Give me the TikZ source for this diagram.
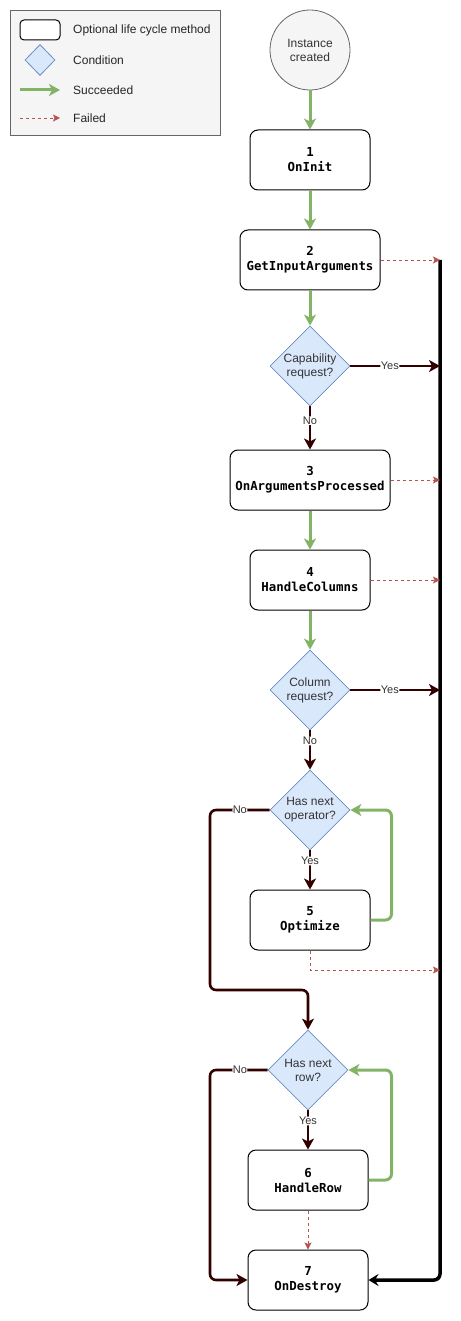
\documentclass[tikz,border=0pt]{standalone}
\usepackage{fontspec}
\setmainfont{Liberation Sans}
\newfontfamily\codefont{DejaVu Sans Mono}
\usetikzlibrary{arrows.meta,shapes.geometric}
\definecolor{okgreen}{HTML}{82B366}
\definecolor{failred}{HTML}{B85450}
\definecolor{maroon}{HTML}{330000}
\definecolor{condfill}{HTML}{DAE8FC}
\definecolor{condline}{HTML}{6C8EBF}
\definecolor{lgfill}{HTML}{F5F5F5}
\definecolor{lgline}{HTML}{666666}
\definecolor{txtgray}{HTML}{333333}
\begin{document}
\begin{tikzpicture}[x=1pt,y=-1pt,
  method/.style={draw=black, rounded corners=8pt, fill=white, line width=1pt,
    minimum height=60pt, inner sep=0pt, align=center,
    font=\codefont\bfseries\fontsize{12.4}{15}\selectfont},
  cond/.style={diamond, draw=condline, fill=condfill, line width=0.8pt,
    minimum width=80pt, minimum height=80pt, inner sep=0pt, aspect=1},
  condtext/.style={align=center, text=txtgray, font=\fontsize{12}{14}\selectfont},
  lbl/.style={fill=white, inner sep=0.5pt, text=txtgray, font=\fontsize{11}{13}\selectfont},
  okarrow/.style={draw=okgreen, line width=3pt, rounded corners=6pt,
    -{Stealth[length=11pt,width=12pt,inset=3pt]}},
  yesno/.style={draw=maroon, line width=2.6pt, rounded corners=6pt,
    -{Stealth[length=11pt,width=12pt,inset=3pt]}},
  failarrow/.style={draw=failred, line width=0.8pt, dash pattern=on 3pt off 3pt,
    -{Stealth[length=7pt,width=7pt,inset=1.5pt]}},
  busline/.style={draw=black, line width=3.5pt, rounded corners=6pt,
    -{Stealth[length=10pt,width=12pt,inset=3.5pt]}},
  lgtext/.style={anchor=west, inner sep=0pt, text=black!85, font=\fontsize{12}{14}\selectfont}
]
\useasboundingbox (0,0) rectangle (460,1321);

% legend
\node[draw=lgline, fill=lgfill, line width=0.8pt, minimum width=210pt, minimum height=125pt,
  inner sep=0pt, anchor=north west] (legend) at (10,10) {};
\node[draw=black, rounded corners=4pt, line width=1pt, fill=white, minimum width=40pt,
  minimum height=20pt, inner sep=0pt] (lgmethod) at (40,30) {};
\node[diamond, draw=condline, fill=condfill, line width=0.8pt, minimum width=30pt,
  minimum height=31pt, inner sep=0pt] (lgcond) at (40,60) {};
\coordinate (lgokA) at (20,90);
\coordinate (lgokB) at (60,90);
\coordinate (lgfailA) at (20,118);
\coordinate (lgfailB) at (60,118);
\draw[okarrow] (lgokA) -- (lgokB);
\draw[failarrow] (lgfailA) -- (lgfailB);
\node[lgtext] (lgt1) at (73,30) {Optional life cycle method};
\node[lgtext] (lgt2) at (73,60) {Condition};
\node[lgtext] (lgt3) at (73,90) {Succeeded};
\node[lgtext] (lgt4) at (73,118) {Failed};

% nodes
\node[circle, draw=lgline, fill=lgfill, line width=0.8pt, minimum size=80pt, inner sep=0pt,
  align=center, text=txtgray, font=\fontsize{12}{14}\selectfont] (start) at (310,50) {Instance\\created};
\node[method, minimum width=120pt] (m1) at (310,160) {1\\OnInit};
\node[method, minimum width=140pt] (m2) at (310,260) {2\\GetInputArguments};
\node[cond] (c1) at (310,366) {};
\node[condtext] (c1t) at (c1) {Capability\\request?};
\node[method, minimum width=160pt] (m3) at (310,480) {3\\OnArgumentsProcessed};
\node[method, minimum width=120pt] (m4) at (310,580) {4\\HandleColumns};
\node[cond] (c2) at (310,690) {};
\node[condtext] (c2t) at (c2) {Column\\request?};
\node[cond] (c3) at (310,810) {};
\node[condtext] (c3t) at (c3) {Has next\\operator?};
\node[method, minimum width=120pt] (m5) at (310,920) {5\\Optimize};
\node[cond] (c4) at (308,1070) {};
\node[condtext] (c4t) at (c4) {Has next\\row?};
\node[method, minimum width=120pt] (m6) at (308,1180) {6\\HandleRow};
\node[method, minimum width=120pt] (m7) at (308,1280) {7\\OnDestroy};

\coordinate (busTop) at (440,260);

% black bus
\draw[busline] (busTop) |- (m7.east);

% success arrows
\draw[okarrow] (start) -- (m1);
\draw[okarrow] (m1) -- (m2);
\draw[okarrow] (m2) -- (c1);
\draw[okarrow] (m3) -- (m4);
\draw[okarrow] (m4) -- (c2);
\draw[okarrow] (m5.east) -- ++(21,0) |- (c3.east);
\draw[okarrow] (m6.east) -- ++(23,0) |- (c4.east);

% yes / no
\draw[yesno] (c1.east) -- node[lbl, pos=0.44] {Yes} (c1.east -| busTop);
\draw[yesno] (c1.south) -- node[lbl, pos=0.33] {No} (m3.north);
\draw[yesno] (c2.east) -- node[lbl, pos=0.44] {Yes} (c2.east -| busTop);
\draw[yesno] (c2.south) -- node[lbl, pos=0.27] {No} (c3.north);
\draw[yesno] (c3.south) -- node[lbl, pos=0.27] {Yes} (m5.north);
\draw[yesno] (c3.west) -- node[lbl] {No} (210,810) -- (210,990) -| (c4.north);
\draw[yesno] (c4.south) -- node[lbl, pos=0.27] {Yes} (m6.north);
\draw[yesno] (c4.west) -- node[lbl, pos=0.48] {No} (210,1070) |- (m7.west);

% failures
\draw[failarrow] (m2.east) -- (busTop);
\draw[failarrow] (m3.east) -- (m3.east -| busTop);
\draw[failarrow] (m4.east) -- (m4.east -| busTop);
\draw[failarrow] (m5.south) |- (busTop |- 0,970);
\draw[failarrow] (m6.south) -- (m7.north);
\end{tikzpicture}
\end{document}
